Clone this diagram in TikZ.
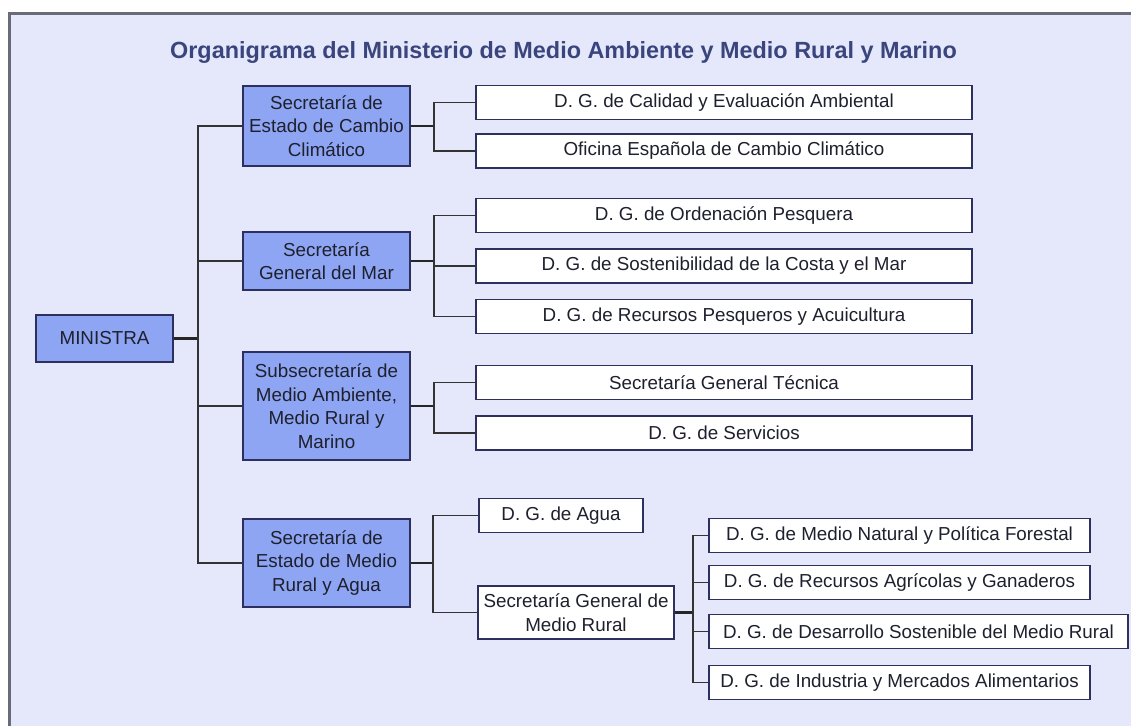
\documentclass[tikz,border=0pt]{standalone}
\usepackage{fontspec}
\setmainfont{Liberation Sans}
\usetikzlibrary{positioning}

\definecolor{panelbg}{RGB}{228,232,250}
\definecolor{framegray}{RGB}{105,108,120}
\definecolor{boxblue}{RGB}{142,165,243}
\definecolor{boxline}{RGB}{45,48,95}
\definecolor{titleblue}{RGB}{58,68,125}
\definecolor{inktext}{RGB}{30,32,45}

\begin{document}
\begin{tikzpicture}[x=1pt, y=-1pt,
  mainbox/.style={draw=boxline, line width=1.5pt, fill=boxblue, align=center, inner sep=0pt, minimum width=167pt, text=inktext, font=\fontsize{18.8}{23.5}\selectfont},
  subbox/.style={draw=boxline, line width=1.5pt, fill=white, align=center, inner sep=0pt, minimum height=34pt, text=inktext, font=\fontsize{18.8}{23.5}\selectfont},
  feed/.style={line width=2.6pt, draw=black!85},
  link/.style={line width=1.7pt, draw=black!80}
]
\useasboundingbox (0,0) rectangle (1131,726);
\fill[panelbg] (9,13) rectangle (1131,726);
\draw[framegray, line width=3pt] (9,726) -- (9,13) -- (1131,13);

\node[anchor=base, text=titleblue, font=\bfseries\fontsize{23.4}{27}\selectfont] (title) at (563.5,58.5)
  {Organigrama del Ministerio de Medio Ambiente y Medio Rural y Marino};

% ministra y secretarias
\node[mainbox, minimum width=137pt, minimum height=47pt] (min) at (104.5,338.5) {MINISTRA};
\node[mainbox, minimum height=80pt] (sec1) at (326.5,126) {Secretaría de\\Estado de Cambio\\Climático};
\node[mainbox, minimum height=58pt] (sec2) at (326.5,261) {Secretaría\\General del Mar};
\node[mainbox, minimum height=108pt] (sec3) at (326.5,406) {Subsecretaría de\\Medio Ambiente,\\Medio Rural y\\Marino};
\node[mainbox, minimum height=88pt] (sec4) at (326.5,563) {Secretaría de\\Estado de Medio\\Rural y Agua};

% direcciones generales
\node[subbox, minimum width=496pt] (dg1) at (724,102.5) {D. G. de Calidad y Evaluación Ambiental};
\node[subbox, minimum width=496pt, below=13pt of dg1] (dg2) {Oficina Española de Cambio Climático};
\node[subbox, minimum width=496pt] (dg3) at (724,215.5) {D. G. de Ordenación Pesquera};
\node[subbox, minimum width=496pt, below=15pt of dg3] (dg4) {D. G. de Sostenibilidad de la Costa y el Mar};
\node[subbox, minimum width=496pt, below=15pt of dg4] (dg5) {D. G. de Recursos Pesqueros y Acuicultura};
\node[subbox, minimum width=496pt] (dg6) at (724,382.5) {Secretaría General Técnica};
\node[subbox, minimum width=496pt, below=15pt of dg6] (dg7) {D. G. de Servicios};
\node[subbox, minimum width=164pt] (agua) at (561,515.5) {D. G. de Agua};
\node[subbox, minimum width=196pt, minimum height=53pt] (sgmr) at (576,612.5) {Secretaría General de\\Medio Rural};
\node[subbox, minimum width=381pt] (mr1) at (899.5,535.5) {D. G. de Medio Natural y Política Forestal};
\node[subbox, minimum width=381pt] (mr2) at (899.5,582.5) {D. G. de Recursos Agrícolas y Ganaderos};
\node[subbox, minimum width=419pt] (mr3) at (918.5,631.5) {D. G. de Desarrollo Sostenible del Medio Rural};
\node[subbox, minimum width=381pt] (mr4) at (899.5,682.5) {D. G. de Industria y Mercados Alimentarios};

% conectores
\coordinate (trunk) at (198,338.5);
\draw[feed] (min.east) -- (trunk);
\foreach \s in {sec1,sec2,sec3,sec4}
  \draw[link] (trunk) |- (\s.west);

\coordinate (br1) at (434,126);
\draw[feed] (sec1.east) -- (br1);
\foreach \d in {dg1,dg2}
  \draw[link] (br1) |- (\d.west);

\coordinate (br2) at (434,261);
\draw[feed] (sec2.east) -- (br2);
\foreach \d in {dg3,dg4,dg5}
  \draw[link] (br2) |- (\d.west);

\coordinate (br3) at (434,406);
\draw[feed] (sec3.east) -- (br3);
\foreach \d in {dg6,dg7}
  \draw[link] (br3) |- (\d.west);

\coordinate (br4) at (433,563);
\draw[feed] (sec4.east) -- (br4);
\foreach \d in {agua,sgmr}
  \draw[link] (br4) |- (\d.west);

\coordinate (br5) at (693,612.5);
\draw[feed] (sgmr.east) -- (br5);
\foreach \d in {mr1,mr2,mr3,mr4}
  \draw[link] (br5) |- (\d.west);
\end{tikzpicture}
\end{document}
